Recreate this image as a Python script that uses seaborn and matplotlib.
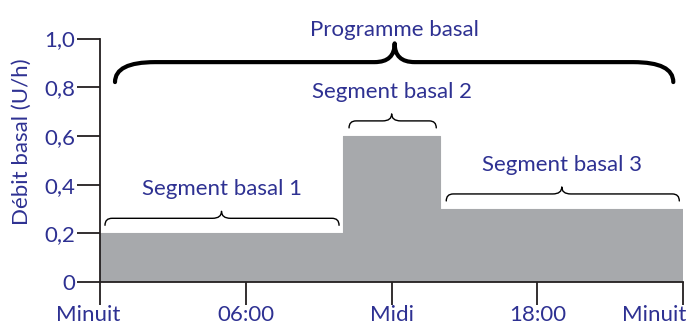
import numpy as np
import matplotlib
matplotlib.use("Agg")
import matplotlib.pyplot as plt
from matplotlib.path import Path
from matplotlib.patches import PathPatch
from matplotlib.transforms import ScaledTranslation
import seaborn as sns
import pandas as pd

# ---- data ----
hours = [0, 10, 14, 24]
rates = [0.2, 0.6, 0.3, 0.3]
xtick_pos = [0, 6, 12, 18, 24]
xtick_labels = ["Minuit", "06:00", "Midi", "18:00", "Minuit"]
ytick_pos = [0, 0.2, 0.4, 0.6, 0.8, 1.0]
ytick_labels = ["0", "0,2", "0,4", "0,6", "0,8", "1,0"]
segment_labels = ["Segment basal 1", "Segment basal 2", "Segment basal 3"]
program_label = "Programme basal"
ylabel = "Débit basal (U/h)"

NAVY = "#2e3192"
GRAY = "#a7a9ac"
DARK = "#231f20"
FONT = "Lato"
FS = 16

sns.set_theme(style="white")
plt.rcParams["font.family"] = [FONT, "DejaVu Sans"]

W, H = 688, 327
fig = plt.figure(figsize=(W / 100, H / 100), dpi=100)
ax = fig.add_axes([100 / W, (H - 282) / H, (683.3 - 100) / W, (282 - 38.5) / H])

df = pd.DataFrame({"h": hours, "r": rates})
ax.fill_between(df["h"], 0, df["r"], step="post", color=GRAY, linewidth=0, zorder=1)
sns.lineplot(data=df, x="h", y="r", drawstyle="steps-post", color=GRAY, linewidth=0.8, ax=ax, zorder=1)

ax.set_xlim(0, 24)
ax.set_ylim(0, 1.0)
ax.set_xticks(xtick_pos)
ax.set_xticklabels(xtick_labels)
ax.set_yticks(ytick_pos)
ax.set_yticklabels(ytick_labels)
ax.set_xlabel("")
ax.set_ylabel(ylabel, color=NAVY, fontsize=FS)
ax.yaxis.set_label_coords(-0.117, 0.577)

for s in ["top", "right"]:
    ax.spines[s].set_visible(False)
for s in ["left", "bottom"]:
    ax.spines[s].set_color(DARK)
    ax.spines[s].set_linewidth(1.3)
    ax.spines[s].set_zorder(3)
ax.tick_params(axis="both", direction="out", length=16.5, width=1.3, color=DARK,
               labelcolor=NAVY, labelsize=FS, left=True, bottom=True)
ax.tick_params(axis="y", pad=1.5)
ax.tick_params(axis="x", pad=0.3)

xl = ax.get_xticklabels()
xl[0].set_transform(xl[0].get_transform() + ScaledTranslation(-12 / 100, 0, fig.dpi_scale_trans))
xl[-1].set_horizontalalignment("right")
xl[-1].set_transform(xl[-1].get_transform() + ScaledTranslation(3 / 100, 0, fig.dpi_scale_trans))

# px -> data conversions
PXX = 24 / 583.3
PXY = 1 / 243.5


def brace(x0, x1, xc, ye, yf, yt, rx, tx, lw):
    verts = [
        (x0, ye), (x0, yf), (x0 + rx, yf),
        (xc - tx, yf),
        (xc, yf), (xc, yt),
        (xc, yf), (xc + tx, yf),
        (x1 - rx, yf),
        (x1, yf), (x1, ye),
    ]
    codes = [Path.MOVETO, Path.CURVE3, Path.CURVE3,
             Path.LINETO,
             Path.CURVE3, Path.CURVE3,
             Path.CURVE3, Path.CURVE3,
             Path.LINETO,
             Path.CURVE3, Path.CURVE3]
    p = PathPatch(Path(verts, codes), fill=False, edgecolor="black", linewidth=lw,
                  capstyle="round", joinstyle="round", clip_on=False, zorder=4)
    ax.add_patch(p)


# segment braces and labels
starts = hours[:-1]
ends = hours[1:]
levels = rates[:-1]
for i, (a, b, lv, lab) in enumerate(zip(starts, ends, levels, segment_labels)):
    x0 = a + 6 * PXX if i > 0 else a + 5 * PXX
    x1 = b - 4 * PXX
    xc = (a + b) / 2
    ye = lv + 8 * PXY
    yf = lv + 15 * PXY
    yt = lv + 22 * PXY
    brace(x0, x1, xc, ye, yf, yt, 7 * PXX, 9 * PXX, 1.0)
    ax.text(xc, lv + 38 * PXY, lab, ha="center", va="baseline", color=NAVY, fontsize=FS, zorder=5)

# overall program brace
brace(hours[0] + 15 * PXX, hours[-1] - 10 * PXX, (hours[0] + hours[-1]) / 2 + 3 * PXX,
      0.821, 0.903, 0.98, 40 * PXX, 20 * PXX, 3.0)
ax.text((hours[0] + hours[-1]) / 2 + 3 * PXX, 1.0 + 3 * PXY, program_label, ha="center",
        va="baseline", color=NAVY, fontsize=FS, clip_on=False, zorder=5)

fig.savefig("out.png", dpi=100)
